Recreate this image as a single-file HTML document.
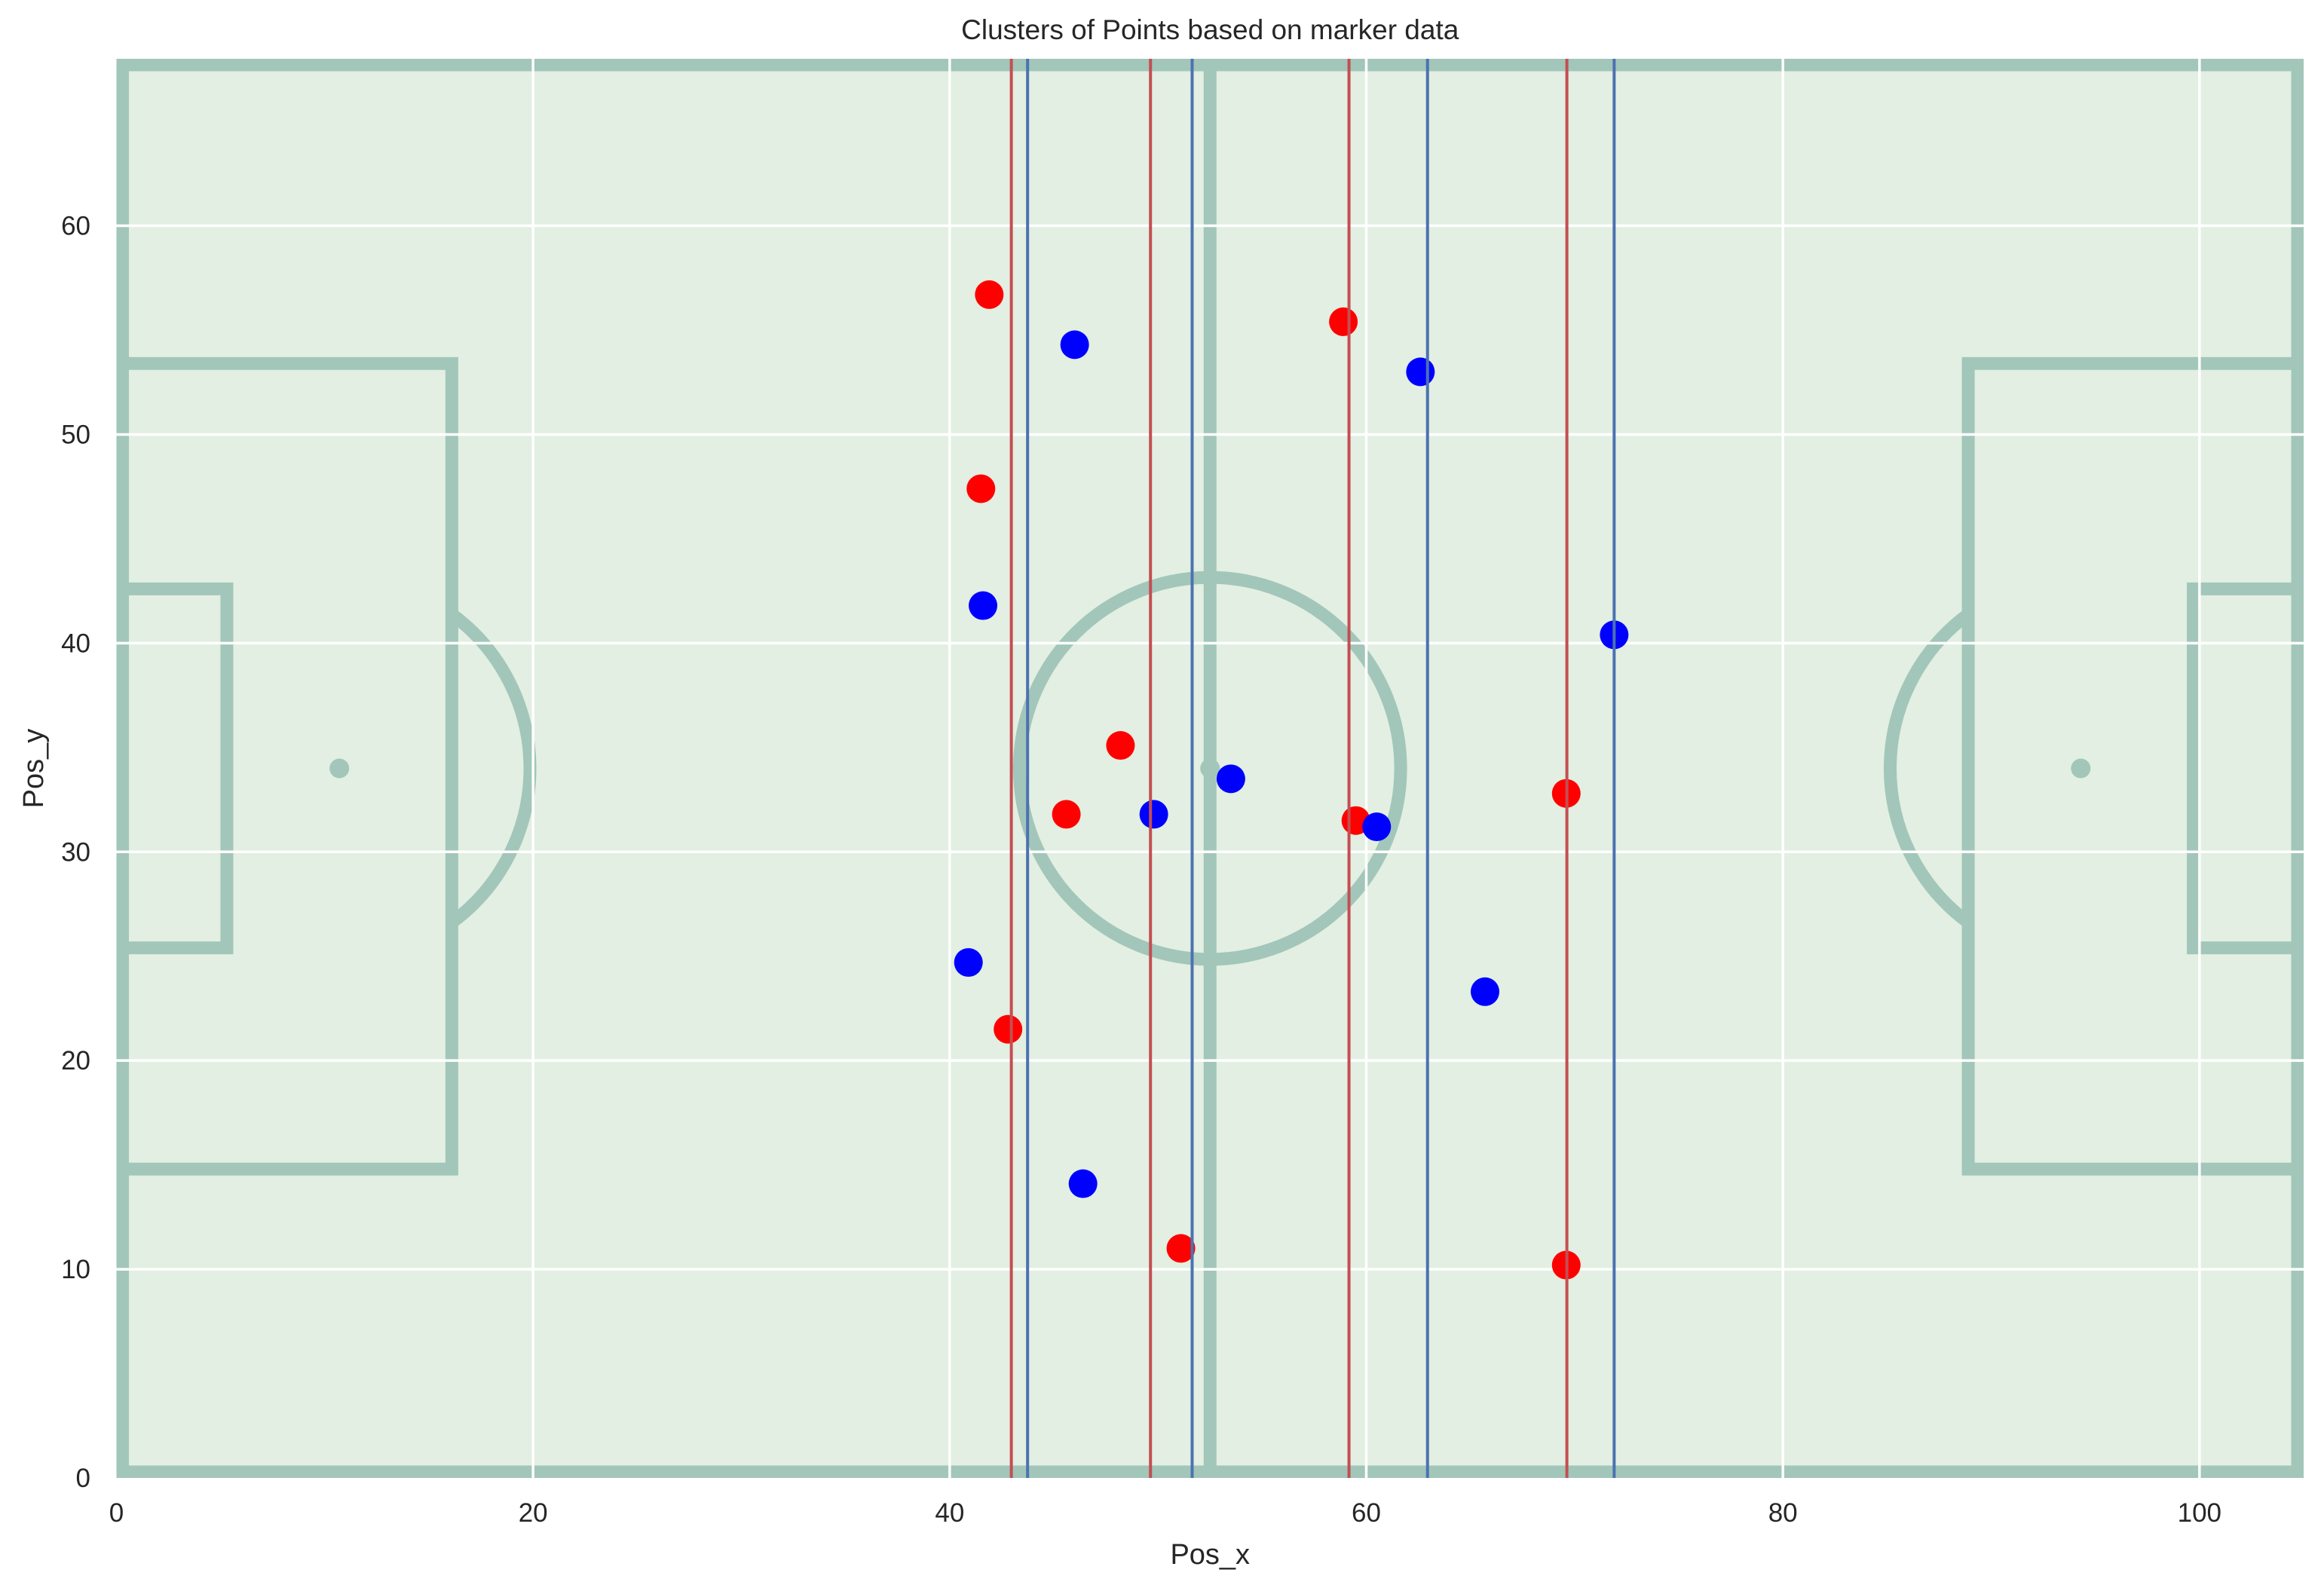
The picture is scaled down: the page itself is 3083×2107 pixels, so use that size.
<!DOCTYPE html>
<html><head><meta charset="utf-8"><style>
html,body{margin:0;padding:0;background:#fff;}
svg{display:block;font-family:"Liberation Sans",sans-serif;}
</style></head><body>
<svg id="chart" width="3083" height="2107" viewBox="0 0 3083 2107"></svg>
<script>
const xTicks=[0,20,40,60,80,100];
const yTicks=[0,10,20,30,40,50,60];
const redX=[41.9,41.5,48.2,45.6,59.5,58.9,42.8,51.1,69.6,69.6];
const redY=[56.7,47.4,35.1,31.8,31.5,55.4,21.5,11.0,32.8,10.2];
const blueX=[46.0,62.6,41.6,71.9,53.5,49.8,60.5,40.9,65.7,46.4];
const blueY=[54.3,53.0,41.8,40.4,33.5,31.8,31.2,24.7,23.3,14.1];
const redLines=[42.96,49.64,59.17,69.63];
const blueLines=[43.74,51.64,62.94,71.9];

const L=154.5,R=3056,T=78,B=1961,XMAX=105,YMAX=68;
const sx=v=>L+(R-L)*v/XMAX;
const sy=v=>B-(B-T)*v/YMAX;
const ns='http://www.w3.org/2000/svg';
const svg=document.getElementById('chart');
function mk(tag,attrs,parent){const e=document.createElementNS(ns,tag);for(const k in attrs)e.setAttribute(k,attrs[k]);(parent||svg).appendChild(e);return e;}

const defs=mk('defs',{});
const cp=mk('clipPath',{id:'clip'},defs);
mk('rect',{x:L,y:T,width:R-L,height:B-T},cp);

const bg=mk('rect',{x:L,y:T,width:R-L,height:B-T,fill:'#e2efe2'});



const pitch=mk('g',{'clip-path':'url(#clip)',stroke:'#a2c6ba','stroke-width':17,fill:'none'});


const ux=(R-L)/XMAX, uy=(B-T)/YMAX;
mk('rect',{x:L+8,y:T+8,width:R-L-16,height:B-T-16},pitch);
mk('line',{x1:sx(52.5),y1:T,x2:sx(52.5),y2:B},pitch);
mk('ellipse',{cx:sx(52.5),cy:sy(34),rx:9.15*ux,ry:9.15*uy},pitch);
// penalty boxes
mk('rect',{x:sx(-1),y:sy(53.4),width:17.1*ux,height:38.6*uy},pitch);
mk('rect',{x:sx(88.9),y:sy(53.4),width:17.1*ux,height:38.6*uy},pitch);
mk('rect',{x:sx(-1),y:sy(42.6),width:6.3*ux,height:17.2*uy},pitch);
mk('rect',{x:sx(99.7),y:sy(42.6),width:6.3*ux,height:17.2*uy},pitch);
// arcs
function arc(spot,edge,sweep){
  const d=Math.abs(edge-spot), a=Math.acos(d/9.15), h=9.15*Math.sin(a);
  mk('path',{d:`M${sx(edge)},${sy(34+h)} A${9.15*ux},${9.15*uy} 0 0 ${sweep} ${sx(edge)},${sy(34-h)}`},pitch);
}
arc(10.7,16.1,1);
arc(94.3,88.9,0);
[[10.7,34],[94.3,34],[52.5,34]].forEach(p=>{mk('circle',{cx:sx(p[0]),cy:sy(p[1]),r:13,fill:'#a2c6ba',stroke:'none'},pitch);});

const grid=mk('g',{stroke:'#ffffff','stroke-width':3.5});


xTicks.forEach(v=>{if(v>0)mk('line',{x1:sx(v),y1:T,x2:sx(v),y2:B},grid);});
yTicks.forEach(v=>{if(v>0)mk('line',{x1:L,y1:sy(v),x2:R,y2:sy(v)},grid);});

function pts(xs,ys,color,name){
  const g=mk('g',{fill:color});
  
  
  xs.forEach((x,i)=>{const c=mk('circle',{cx:sx(x),cy:sy(ys[i]),r:19},g);
    
    });
}
pts(redX,redY,'#ff0000','red-cluster');
pts(blueX,blueY,'#0000ff','blue-cluster');

function vl(xs,color,name){
  const g=mk('g',{stroke:color,'stroke-width':4});
  
  
  xs.forEach(x=>{mk('line',{x1:sx(x),y1:T,x2:sx(x),y2:B},g);});
}
vl(redLines,'#c44e52','red-boundary-lines');
vl(blueLines,'#4c72b0','blue-boundary-lines');

const xt=mk('g',{'font-size':35,fill:'#262626','text-anchor':'middle'});


xTicks.forEach(v=>{const t=mk('text',{x:sx(v),y:2019},xt);t.textContent=v;});
const yt=mk('g',{'font-size':35,fill:'#262626','text-anchor':'end'});


yTicks.forEach(v=>{const t=mk('text',{x:120,y:sy(v)+12},yt);t.textContent=v;});

const title=mk('text',{x:(L+R)/2,y:52,'font-size':37,fill:'#262626','text-anchor':'middle'});
title.textContent='Clusters of Points based on marker data';


const xl=mk('text',{x:(L+R)/2,y:2075,'font-size':38,fill:'#262626','text-anchor':'middle'});
xl.textContent='Pos_x';


const yl=mk('text',{x:0,y:0,'font-size':38,fill:'#262626','text-anchor':'middle',transform:`translate(57,${(T+B)/2}) rotate(-90)`});
yl.textContent='Pos_y';


</script>
</body></html>
